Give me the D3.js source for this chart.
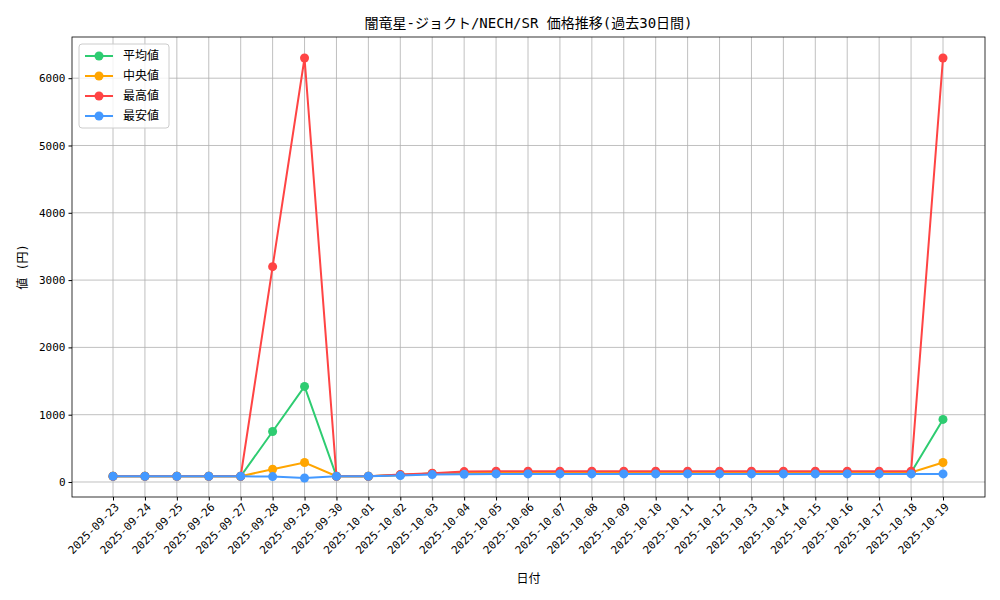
<!DOCTYPE html>
<html><head><meta charset="utf-8">
<script src="https://cdn.jsdelivr.net/npm/d3@7"></script>
<style>body{margin:0;background:#fff}text{font-family:"DejaVu Sans Mono","Noto Sans CJK JP",monospace}</style>
</head><body><svg id="chart" width="1000" height="600"></svg>
<script>
var dates = ["2025-09-23","2025-09-24","2025-09-25","2025-09-26","2025-09-27","2025-09-28","2025-09-29","2025-09-30","2025-10-01","2025-10-02","2025-10-03","2025-10-04","2025-10-05","2025-10-06","2025-10-07","2025-10-08","2025-10-09","2025-10-10","2025-10-11","2025-10-12","2025-10-13","2025-10-14","2025-10-15","2025-10-16","2025-10-17","2025-10-18","2025-10-19"];
var avgVals = [85,85,85,85,85,750,1420,85,85,105,125,140,140,140,140,140,140,140,140,140,140,140,140,140,140,140,930];
var medVals = [85,85,85,85,85,190,290,85,85,105,125,140,140,140,140,140,140,140,140,140,140,140,140,140,140,140,290];
var maxVals = [85,85,85,85,85,3200,6300,85,85,110,130,155,160,160,160,160,160,160,160,160,160,160,160,160,160,160,6300];
var minVals = [85,85,85,85,85,80,60,85,85,95,110,115,120,120,120,120,120,120,120,120,120,120,120,120,120,120,120];
var yTicks = [0,1000,2000,3000,4000,5000,6000];

var series = [
  {name:"平均値", values:avgVals, color:"#2ecc71"},
  {name:"中央値", values:medVals, color:"#ffa500"},
  {name:"最高値", values:maxVals, color:"#ff4444"},
  {name:"最安値", values:minVals, color:"#4499ff"}
];

var svg = d3.select("#chart");
var L = 72, R = 985, T = 37, B = 497;
var x = d3.scalePoint().domain(dates).range([113, 943]);
var y = d3.scaleLinear().domain([-223, 6612]).range([B, T]);

// grid
svg.append("g").selectAll("line").data(dates).join("line")
  .attr("x1", d => x(d)).attr("x2", d => x(d)).attr("y1", T).attr("y2", B)
  .attr("stroke", "#b0b0b0").attr("stroke-width", 0.8);
svg.append("g").selectAll("line").data(yTicks).join("line")
  .attr("x1", L).attr("x2", R).attr("y1", d => y(d)).attr("y2", d => y(d))
  .attr("stroke", "#b0b0b0").attr("stroke-width", 0.8);

// axes
var xAxis = svg.append("g").attr("transform", "translate(0," + B + ")")
  .call(d3.axisBottom(x).tickSizeOuter(0).tickSize(3.5));
xAxis.select(".domain").remove();
xAxis.selectAll("text").attr("font-size", 11).attr("fill", "#000")
  .attr("text-anchor", "end").attr("transform", "rotate(-45)").attr("dx", "-0.3em").attr("dy", "0.5em");
var yAxis = svg.append("g").attr("transform", "translate(" + L + ",0)")
  .call(d3.axisLeft(y).tickValues(yTicks).tickFormat(d3.format("d")).tickSize(3.5));
yAxis.select(".domain").remove();
yAxis.selectAll("text").attr("font-size", 11).attr("fill", "#000");
svg.append("rect").attr("x", L).attr("y", T).attr("width", R - L).attr("height", B - T)
  .attr("fill", "none").attr("stroke", "#000").attr("stroke-width", 0.8);

// lines
var line = d3.line().x((d, i) => x(dates[i])).y(d => y(d));
series.forEach(s => {
  svg.append("path").datum(s.values).attr("d", line)
    .attr("fill", "none").attr("stroke", s.color).attr("stroke-width", 2);
  svg.append("g").selectAll("circle").data(s.values).join("circle")
    .attr("cx", (d, i) => x(dates[i])).attr("cy", d => y(d)).attr("r", 4.5).attr("fill", s.color);
});

// labels
svg.append("text").attr("x", (L + R) / 2).attr("y", 28).attr("text-anchor", "middle")
  .attr("font-size", 14).text("闇竜星-ジョクト/NECH/SR 価格推移(過去30日間)");
svg.append("text").attr("x", (L + R) / 2).attr("y", 583).attr("text-anchor", "middle")
  .attr("font-size", 12).text("日付");
svg.append("text").attr("transform", "translate(27," + ((T + B) / 2) + ") rotate(-90)")
  .attr("text-anchor", "middle").attr("font-size", 12).text("値 (円)");

// legend
var lg = svg.append("g").attr("transform", "translate(79,44)");
lg.append("rect").attr("width", 90).attr("height", 84).attr("rx", 3)
  .attr("fill", "#fff").attr("fill-opacity", 0.8).attr("stroke", "#ccc");
series.forEach((s, i) => {
  var gy = 12 + i * 20;
  lg.append("line").attr("x1", 6).attr("x2", 34).attr("y1", gy).attr("y2", gy)
    .attr("stroke", s.color).attr("stroke-width", 2);
  lg.append("circle").attr("cx", 20).attr("cy", gy).attr("r", 4.5).attr("fill", s.color);
  lg.append("text").attr("x", 44).attr("y", gy + 4).attr("font-size", 12).text(s.name);
});
</script></body></html>
